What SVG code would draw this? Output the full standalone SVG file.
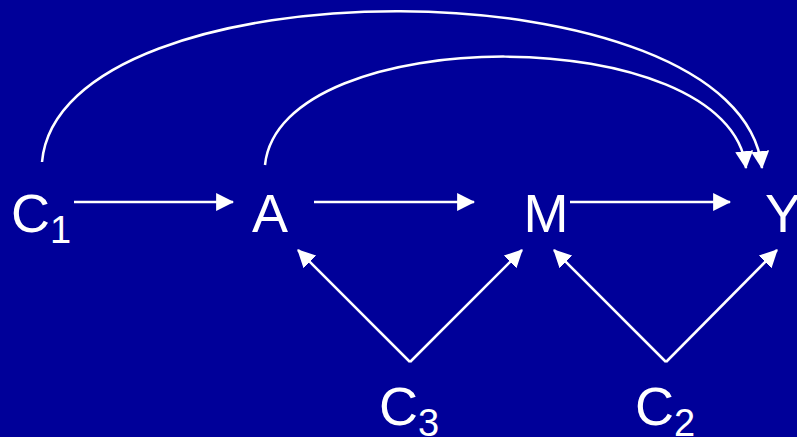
<svg xmlns="http://www.w3.org/2000/svg" width="797" height="437" viewBox="0 0 797 437">
<style>
.lbl{font-family:"Liberation Sans",Arial,sans-serif;font-size:54px;fill:#fff}
.sub{font-size:38px}
.edge{fill:none;stroke:#fff;stroke-width:2.5;marker-end:url(#ah)}
</style>
<defs>
<marker id="ah" markerUnits="userSpaceOnUse" markerWidth="18" markerHeight="18" viewBox="0 0 16 16" refX="15" refY="8" orient="auto">
<path d="M0,0 L16,8 L0,16 Z" fill="#fff"/>
</marker>
</defs>
<rect width="797" height="437" fill="#000099"/>
<g id="connectors">
<path class="edge" d="M74,202 H233"/>
<path class="edge" d="M314,202 H474"/>
<path class="edge" d="M570,202 H730"/>
<path class="edge" d="M410,362 L298,250"/>
<path class="edge" d="M410,362 L522,250"/>
<path class="edge" d="M666,362 L554,250"/>
<path class="edge" d="M666,362 L777,250"/>
<path class="edge" d="M42,162 C60,-40 740,-40 762,168"/>
<path class="edge" d="M265,165 C280,20 730,20 746,168"/>
</g>
<g id="C1"><text class="lbl" x="11" y="232">C<tspan class="sub" dy="11">1</tspan></text></g>
<g id="A"><text class="lbl" x="270" y="232" text-anchor="middle">A</text></g>
<g id="M"><text class="lbl" x="546" y="232" text-anchor="middle">M</text></g>
<g id="Y"><text class="lbl" x="783" y="232" text-anchor="middle">Y</text></g>
<g id="C3"><text class="lbl" x="379" y="425">C<tspan class="sub" dy="11">3</tspan></text></g>
<g id="C2"><text class="lbl" x="635" y="425">C<tspan class="sub" dy="11">2</tspan></text></g>
</svg>
